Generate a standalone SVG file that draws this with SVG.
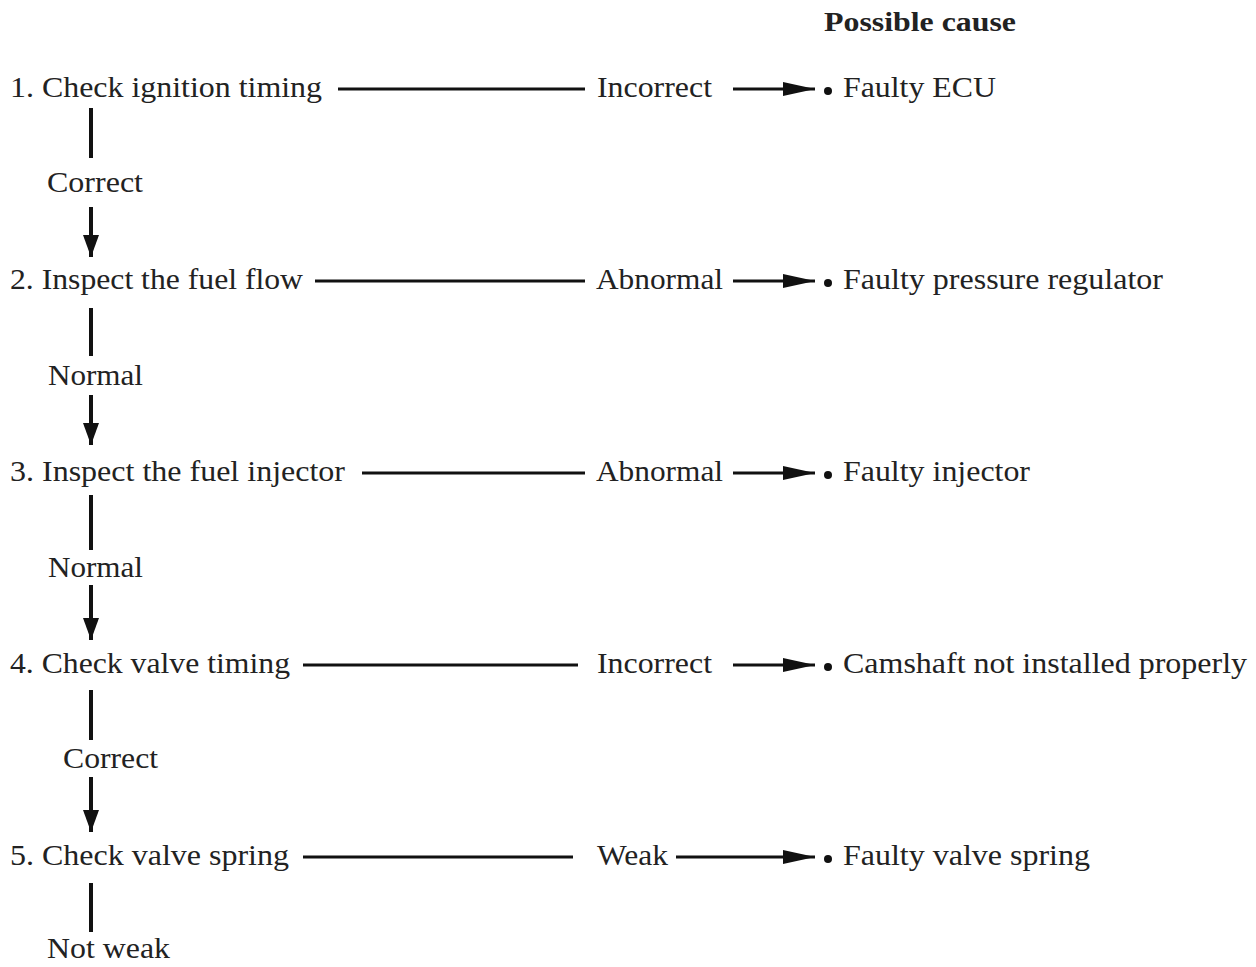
<svg xmlns="http://www.w3.org/2000/svg" width="1256" height="967" viewBox="0 0 1256 967">
<style>
text{font-family:"Liberation Serif","Times New Roman",serif;font-size:29px;fill:#222}
.b{font-weight:bold;font-size:27px}
.h{stroke:#111;stroke-width:3;fill:none}
.v{stroke:#111;stroke-width:4;fill:none}
.dot{fill:#111}
</style>
<defs>
<marker id="ah" markerUnits="userSpaceOnUse" markerWidth="34" markerHeight="16" refX="32" refY="8" orient="auto">
<path d="M0,1 L32,8 L0,15 Z" fill="#111"/>
</marker>
<marker id="av" markerUnits="userSpaceOnUse" markerWidth="24" markerHeight="18" refX="22" refY="9" orient="auto">
<path d="M0,1 L22,9 L0,17 Z" fill="#111"/>
</marker>
</defs>
<rect width="1256" height="967" fill="#fff"/>
<text class="b" x="824" y="31" textLength="192" lengthAdjust="spacingAndGlyphs">Possible cause</text>

<g id="step1"><text x="10" y="97" textLength="312" lengthAdjust="spacingAndGlyphs">1. Check ignition timing</text></g>
<g id="step2"><text x="10" y="289" textLength="293" lengthAdjust="spacingAndGlyphs">2. Inspect the fuel flow</text></g>
<g id="step3"><text x="10" y="481" textLength="335" lengthAdjust="spacingAndGlyphs">3. Inspect the fuel injector</text></g>
<g id="step4"><text x="10" y="673" textLength="280" lengthAdjust="spacingAndGlyphs">4. Check valve timing</text></g>
<g id="step5"><text x="10" y="865" textLength="279" lengthAdjust="spacingAndGlyphs">5. Check valve spring</text></g>

<g id="res1"><text x="597" y="97" textLength="115" lengthAdjust="spacingAndGlyphs">Incorrect</text><circle class="dot" cx="828" cy="91" r="4"/><text x="843" y="97" textLength="153" lengthAdjust="spacingAndGlyphs">Faulty ECU</text></g>
<g id="res2"><text x="596" y="289" textLength="127" lengthAdjust="spacingAndGlyphs">Abnormal</text><circle class="dot" cx="828" cy="283" r="4"/><text x="843" y="289" textLength="320" lengthAdjust="spacingAndGlyphs">Faulty pressure regulator</text></g>
<g id="res3"><text x="596" y="481" textLength="127" lengthAdjust="spacingAndGlyphs">Abnormal</text><circle class="dot" cx="828" cy="475" r="4"/><text x="843" y="481" textLength="187" lengthAdjust="spacingAndGlyphs">Faulty injector</text></g>
<g id="res4"><text x="597" y="673" textLength="115" lengthAdjust="spacingAndGlyphs">Incorrect</text><circle class="dot" cx="828" cy="667" r="4"/><text x="843" y="673" textLength="404" lengthAdjust="spacingAndGlyphs">Camshaft not installed properly</text></g>
<g id="res5"><text x="597" y="865" textLength="71" lengthAdjust="spacingAndGlyphs">Weak</text><circle class="dot" cx="828" cy="859" r="4"/><text x="843" y="865" textLength="247" lengthAdjust="spacingAndGlyphs">Faulty valve spring</text></g>

<g id="connectors">
<line class="h" x1="338" y1="89" x2="585" y2="89"/>
<line class="h" x1="733" y1="89" x2="815" y2="89" marker-end="url(#ah)"/>
<line class="h" x1="315" y1="281" x2="585" y2="281"/>
<line class="h" x1="733" y1="281" x2="815" y2="281" marker-end="url(#ah)"/>
<line class="h" x1="362" y1="473" x2="585" y2="473"/>
<line class="h" x1="733" y1="473" x2="815" y2="473" marker-end="url(#ah)"/>
<line class="h" x1="303" y1="665" x2="578" y2="665"/>
<line class="h" x1="733" y1="665" x2="815" y2="665" marker-end="url(#ah)"/>
<line class="h" x1="303" y1="857" x2="573" y2="857"/>
<line class="h" x1="676" y1="857" x2="815" y2="857" marker-end="url(#ah)"/>

<line class="v" x1="91" y1="108" x2="91" y2="158"/>
<text x="47" y="192" textLength="96" lengthAdjust="spacingAndGlyphs">Correct</text>
<line class="v" x1="91" y1="207" x2="91" y2="257" marker-end="url(#av)"/>
<line class="v" x1="91" y1="308" x2="91" y2="356"/>
<text x="48" y="385" textLength="95" lengthAdjust="spacingAndGlyphs">Normal</text>
<line class="v" x1="91" y1="395" x2="91" y2="445" marker-end="url(#av)"/>
<line class="v" x1="91" y1="495" x2="91" y2="550"/>
<text x="48" y="577" textLength="95" lengthAdjust="spacingAndGlyphs">Normal</text>
<line class="v" x1="91" y1="585" x2="91" y2="640" marker-end="url(#av)"/>
<line class="v" x1="91" y1="690" x2="91" y2="740"/>
<text x="63" y="768" textLength="95" lengthAdjust="spacingAndGlyphs">Correct</text>
<line class="v" x1="91" y1="777" x2="91" y2="832" marker-end="url(#av)"/>
<line class="v" x1="91" y1="883" x2="91" y2="932"/>
<text x="47" y="958" textLength="123" lengthAdjust="spacingAndGlyphs">Not weak</text>
</g>
</svg>
